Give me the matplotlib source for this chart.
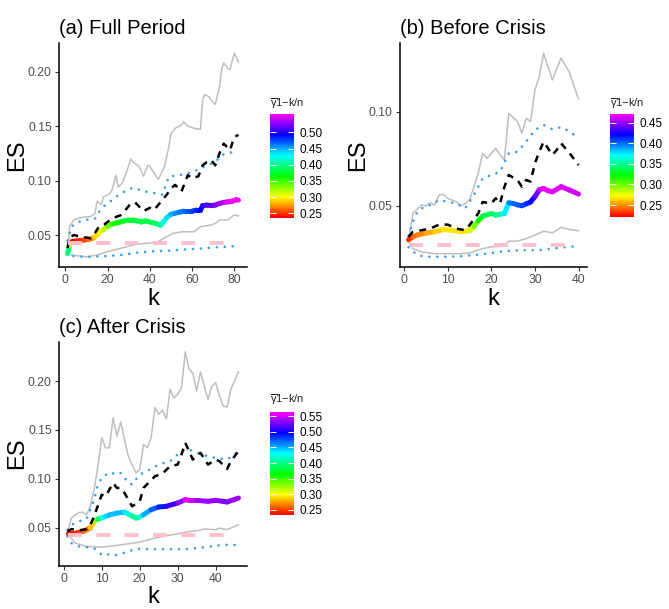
import numpy as np
import matplotlib
matplotlib.use("Agg")
import matplotlib.pyplot as plt
from matplotlib.collections import LineCollection
from matplotlib.colors import ListedColormap, Normalize, hsv_to_rgb
from matplotlib.cm import ScalarMappable

plt.rcParams["font.family"] = ["Liberation Sans", "DejaVu Sans"]
plt.rcParams["lines.scale_dashes"] = False
plt.rcParams["mathtext.fontset"] = "custom"
plt.rcParams["mathtext.rm"] = "Liberation Sans"
plt.rcParams["mathtext.it"] = "Liberation Sans"

# ---------------- (a) Full Period ----------------
a_up_k = [1, 2, 4, 7, 12, 14, 15, 17, 18, 21, 22, 24, 25, 27, 29, 31, 32, 35, 37, 39, 40, 42, 44, 47,
          49, 50, 52, 55, 56, 58, 61, 64, 65, 66, 68, 69, 71, 73, 74, 75, 77, 78, 80, 82]
a_up = [0.033, 0.058, 0.064, 0.066, 0.067, 0.070, 0.081, 0.078, 0.085, 0.088, 0.091, 0.105, 0.094,
        0.098, 0.108, 0.120, 0.117, 0.113, 0.104, 0.114, 0.113, 0.107, 0.101, 0.113, 0.131, 0.143,
        0.148, 0.151, 0.154, 0.150, 0.148, 0.147, 0.174, 0.179, 0.177, 0.174, 0.170, 0.186, 0.202,
        0.208, 0.203, 0.202, 0.217, 0.209]
a_lo_k = [1, 3, 10, 15, 20, 26, 32, 37, 42, 44, 48, 51, 55, 61, 64, 69, 71, 73, 77, 80, 82]
a_lo = [0.033, 0.0316, 0.030, 0.0316, 0.0347, 0.0377, 0.0408, 0.0423, 0.0430, 0.044, 0.0485,
        0.0515, 0.053, 0.053, 0.0577, 0.0592, 0.0607, 0.0638, 0.0638, 0.0684, 0.0675]
a_bup_k = [1, 3, 6, 10, 14, 17, 20, 24, 28, 32, 36, 40, 44, 46, 49, 54, 58, 63, 67, 71, 74, 80, 82]
a_bup = [0.045, 0.058, 0.062, 0.064, 0.065, 0.0745, 0.079, 0.085, 0.090, 0.0935, 0.091, 0.089,
         0.088, 0.087, 0.1036, 0.105, 0.1067, 0.110, 0.114, 0.117, 0.1235, 0.1266, 0.126]
a_blo_k = [1, 3, 10, 18, 26, 34, 42, 49, 57, 65, 71, 82]
a_blo = [0.035, 0.0307, 0.030, 0.0305, 0.0316, 0.0338, 0.0352, 0.0356, 0.0368, 0.0377, 0.0387, 0.040]
a_est_k = [1, 2, 4, 6, 9, 12, 14, 16, 18, 20, 23, 26, 28, 31, 33, 35, 37, 40, 42, 45, 48, 50, 52,
           55, 58, 60, 63, 65, 67, 69, 71, 73, 75, 78, 80, 82]
a_est = [0.038, 0.048, 0.050, 0.049, 0.048, 0.047, 0.052, 0.058, 0.059, 0.062, 0.066, 0.068, 0.072,
         0.079, 0.080, 0.076, 0.072, 0.075, 0.073, 0.080, 0.087, 0.093, 0.096, 0.090, 0.105, 0.102,
         0.104, 0.114, 0.117, 0.119, 0.114, 0.125, 0.134, 0.128, 0.140, 0.142]
a_es_k = [1, 2, 3, 5, 7, 9, 11, 13, 14, 16, 18, 20, 22, 24, 26, 28, 30, 32, 34, 36, 38, 40, 42, 44,
          45, 46, 48, 50, 52, 54, 56, 58, 60, 62, 64, 65, 67, 69, 71, 73, 75, 77, 79, 81, 82]
a_es = [0.033, 0.041, 0.044, 0.0445, 0.045, 0.0455, 0.046, 0.047, 0.0485, 0.052, 0.055, 0.058,
        0.060, 0.061, 0.062, 0.063, 0.064, 0.064, 0.063, 0.062, 0.063, 0.062, 0.061, 0.060, 0.059,
        0.061, 0.066, 0.069, 0.070, 0.071, 0.072, 0.072, 0.072, 0.073, 0.073, 0.077, 0.0775, 0.077,
        0.0775, 0.079, 0.080, 0.0805, 0.081, 0.0825, 0.082]
a_gamma = [0.42, 0.37, 0.236, 0.24, 0.245, 0.25, 0.26, 0.27, 0.28, 0.30, 0.31, 0.33, 0.35, 0.36,
           0.37, 0.375, 0.38, 0.38, 0.385, 0.38, 0.385, 0.38, 0.39, 0.39, 0.40, 0.41, 0.43, 0.445,
           0.455, 0.46, 0.465, 0.47, 0.475, 0.48, 0.49, 0.50, 0.51, 0.515, 0.52, 0.53, 0.54, 0.545,
           0.55, 0.557, 0.555]
a_ref = 0.0425

# ---------------- (b) Before Crisis ----------------
b_up_k = [1, 2, 4, 5, 6, 7, 8, 9, 10, 12, 13, 14, 15, 16, 17, 18, 19, 21, 22, 23, 24, 26, 27, 28,
          29, 30, 31, 32, 34, 36, 38, 39, 40]
b_up = [0.031, 0.046, 0.0504, 0.050, 0.0516, 0.0504, 0.0557, 0.056, 0.0539, 0.0521, 0.050, 0.0512,
        0.053, 0.060, 0.0672, 0.0778, 0.0752, 0.0805, 0.077, 0.0743, 0.0991, 0.0947, 0.0885, 0.0965,
        0.0947, 0.1115, 0.1186, 0.131, 0.1168, 0.1284, 0.1204, 0.1133, 0.1066]
b_lo_k = [1, 2, 4, 7, 13, 15, 18, 20, 23, 24, 26, 28, 30, 32, 34, 36, 38, 40]
b_lo = [0.031, 0.0273, 0.0255, 0.0246, 0.0246, 0.025, 0.0273, 0.0282, 0.0285, 0.0312, 0.0312,
        0.0326, 0.0344, 0.0365, 0.0356, 0.0385, 0.0374, 0.0367]
b_bup_k = [1, 2, 3, 4, 6, 8, 10, 12, 14, 16, 18, 20, 22, 24, 26, 28, 30, 32, 34, 36, 38, 40]
b_bup = [0.034, 0.0415, 0.0468, 0.0486, 0.0504, 0.053, 0.0521, 0.0512, 0.0486, 0.0557, 0.0645,
         0.0663, 0.068, 0.0778, 0.0787, 0.084, 0.0902, 0.0929, 0.0906, 0.0917, 0.0894, 0.0858]
b_blo_k = [1, 3, 5, 9, 13, 16, 19, 23, 27, 31, 34, 38, 40]
b_blo = [0.028, 0.0238, 0.0229, 0.0229, 0.0232, 0.0238, 0.0246, 0.0259, 0.0264, 0.0264, 0.0273,
         0.0282, 0.0287]
b_est_k = [1, 2, 4, 6, 8, 10, 12, 14, 15, 17, 18, 20, 21, 22, 23, 24, 26, 27, 28, 29, 30, 31, 32,
           34, 35, 36, 38, 40]
b_est = [0.0335, 0.0362, 0.037, 0.0379, 0.040, 0.040, 0.0379, 0.037, 0.0397, 0.0459, 0.052,
         0.0512, 0.054, 0.0512, 0.060, 0.0663, 0.0637, 0.0601, 0.0637, 0.0628, 0.0725, 0.0787,
         0.084, 0.077, 0.0796, 0.0832, 0.0778, 0.0716]
b_es_k = [1, 2, 3, 5, 7, 9, 11, 13, 15, 16, 17, 18, 20, 21, 22, 23, 24, 25, 26, 27, 28, 29, 30,
          31, 32, 33, 34, 36, 38, 40]
b_es = [0.032, 0.0335, 0.0345, 0.0355, 0.0362, 0.0374, 0.037, 0.0362, 0.0367, 0.039, 0.042,
        0.0445, 0.0459, 0.045, 0.0455, 0.0459, 0.0516, 0.0512, 0.0505, 0.050, 0.051, 0.052, 0.0548,
        0.0585, 0.0592, 0.058, 0.0574, 0.0601, 0.0583, 0.0562]
b_gamma = [0.222, 0.24, 0.245, 0.25, 0.26, 0.265, 0.27, 0.265, 0.27, 0.29, 0.31, 0.33, 0.34, 0.345,
           0.35, 0.36, 0.39, 0.40, 0.40, 0.405, 0.41, 0.415, 0.43, 0.45, 0.465, 0.47, 0.465, 0.46,
           0.465, 0.455]
b_ref = 0.029

# ---------------- (c) After Crisis ----------------
c_up_k = [1, 2, 4, 5, 6, 7, 8, 9, 10, 11, 12, 13, 14, 15, 16, 17, 19, 20, 21, 22, 23, 24, 25, 26,
          27, 28, 29, 30, 31, 32, 33, 34, 35, 36, 37, 38, 39, 40, 41, 42, 43, 44, 46]
c_up = [0.0445, 0.060, 0.0657, 0.0657, 0.0633, 0.0719, 0.089, 0.1129, 0.1419, 0.1317, 0.1317,
        0.1624, 0.1436, 0.158, 0.1402, 0.1231, 0.106, 0.1095, 0.1351, 0.1317, 0.1419, 0.1727,
        0.1659, 0.1703, 0.1614, 0.1915, 0.1829, 0.1864, 0.1932, 0.2298, 0.212, 0.2079, 0.1898,
        0.2093, 0.1949, 0.1812, 0.1949, 0.1983, 0.1847, 0.1744, 0.1734, 0.1915, 0.2093]
c_lo_k = [1, 3, 6, 10, 13, 17, 20, 24, 27, 31, 33, 35, 37, 40, 41, 43, 46]
c_lo = [0.0445, 0.0343, 0.0309, 0.0302, 0.0315, 0.0336, 0.0353, 0.0394, 0.0418, 0.0445, 0.0462,
        0.0469, 0.0486, 0.048, 0.0497, 0.048, 0.0531]
c_bup_k = [1, 2, 4, 6, 7, 8, 9, 10, 12, 14, 15, 17, 18, 20, 23, 25, 28, 31, 33, 35, 38, 40, 43, 46]
c_bup = [0.048, 0.053, 0.0565, 0.0589, 0.0685, 0.0787, 0.0941, 0.1009, 0.1067, 0.1043, 0.106,
         0.0958, 0.0941, 0.1043, 0.1101, 0.1146, 0.118, 0.1283, 0.130, 0.1266, 0.1231, 0.1214,
         0.1197, 0.128]
c_blo_k = [1, 2, 4, 6, 8, 10, 11, 13, 15, 17, 19, 23, 27, 32, 35, 39, 42, 46]
c_blo = [0.0411, 0.0343, 0.0309, 0.0302, 0.029, 0.0223, 0.0233, 0.0216, 0.0233, 0.0257, 0.0285,
         0.0281, 0.0281, 0.0281, 0.0292, 0.0309, 0.0326, 0.0322]
c_est_k = [1, 2, 4, 6, 7, 8, 10, 11, 13, 14, 15, 16, 18, 20, 21, 24, 26, 28, 30, 31, 32, 34, 36,
           38, 40, 41, 43, 44, 46]
c_est = [0.0462, 0.0486, 0.0473, 0.0486, 0.053, 0.0616, 0.0838, 0.0821, 0.0958, 0.0907, 0.0907,
         0.0855, 0.0719, 0.077, 0.0907, 0.1026, 0.1054, 0.1129, 0.1146, 0.1249, 0.1368, 0.1197,
         0.1266, 0.1146, 0.1197, 0.118, 0.1101, 0.118, 0.1283]
c_es_k = [1, 3, 5, 7, 8, 9, 10, 11, 12, 14, 16, 17, 18, 19, 20, 21, 23, 25, 27, 30, 32, 33, 35,
          38, 40, 42, 43, 45, 46]
c_es = [0.0445, 0.0445, 0.0462, 0.0497, 0.0565, 0.059, 0.060, 0.0616, 0.063, 0.065, 0.066, 0.064,
        0.062, 0.0599, 0.061, 0.0633, 0.0685, 0.0712, 0.0719, 0.0753, 0.0787, 0.078, 0.078, 0.077,
        0.078, 0.077, 0.0763, 0.079, 0.0804]
c_gamma = [0.234, 0.24, 0.25, 0.27, 0.30, 0.36, 0.42, 0.44, 0.445, 0.45, 0.445, 0.43, 0.41, 0.395,
           0.41, 0.44, 0.465, 0.48, 0.50, 0.52, 0.545, 0.562, 0.54, 0.535, 0.54, 0.53, 0.525, 0.535,
           0.54]
c_ref = 0.0425

panels = [
    dict(title="(a) Full Period", up=(a_up_k, a_up), lo=(a_lo_k, a_lo), bup=(a_bup_k, a_bup),
         blo=(a_blo_k, a_blo), est=(a_est_k, a_est), es=(a_es_k, a_es, a_gamma), ref=a_ref,
         xticks=[0, 20, 40, 60, 80], yticks=[0.05, 0.10, 0.15, 0.20],
         cticks=[0.25, 0.30, 0.35, 0.40, 0.45, 0.50],
         rect=[59 / 669, 1 - 267 / 609, 188 / 669, 224 / 609],
         crect=[270 / 669, 1 - 217.7 / 609, 24 / 669, 103.7 / 609], ctitle_y=1 - 104 / 609),
    dict(title="(b) Before Crisis", up=(b_up_k, b_up), lo=(b_lo_k, b_lo), bup=(b_bup_k, b_bup),
         blo=(b_blo_k, b_blo), est=(b_est_k, b_est), es=(b_es_k, b_es, b_gamma), ref=b_ref,
         xticks=[0, 10, 20, 30, 40], yticks=[0.05, 0.10],
         cticks=[0.25, 0.30, 0.35, 0.40, 0.45],
         rect=[400 / 669, 1 - 267 / 609, 187 / 669, 224 / 609],
         crect=[610 / 669, 1 - 216.7 / 609, 24 / 669, 102.4 / 609], ctitle_y=1 - 104 / 609),
    dict(title="(c) After Crisis", up=(c_up_k, c_up), lo=(c_lo_k, c_lo), bup=(c_bup_k, c_bup),
         blo=(c_blo_k, c_blo), est=(c_est_k, c_est), es=(c_es_k, c_es, c_gamma), ref=c_ref,
         xticks=[0, 10, 20, 30, 40], yticks=[0.05, 0.10, 0.15, 0.20],
         cticks=[0.25, 0.30, 0.35, 0.40, 0.45, 0.50, 0.55],
         rect=[59 / 669, 1 - 565.7 / 609, 188 / 669, 224 / 609],
         crect=[270 / 669, 1 - 515 / 609, 24 / 669, 102.7 / 609], ctitle_y=1 - 400 / 609),
]

hues = np.linspace(0, 5 / 6, 256)
cmap = ListedColormap(hsv_to_rgb(np.column_stack([hues, np.ones(256), np.ones(256)])))

fig = plt.figure(figsize=(6.69, 6.09), dpi=100)

for p in panels:
    ax = fig.add_axes(p["rect"])
    grey = "#BEBEBE"
    blue = "#3D9BE9"
    ax.plot(*p["up"], color=grey, lw=1.1, zorder=2)
    ax.plot(*p["lo"], color=grey, lw=1.1, zorder=2)
    for key in ("bup", "blo"):
        ax.plot(*p[key], color=blue, lw=1.9, linestyle=(0, (0.05, 5.7)),
                dash_capstyle="round", zorder=3)

    ek, ev, eg = p["es"]
    pts = np.column_stack([ek, ev])
    segs = np.stack([pts[:-1], pts[1:]], axis=1)
    eg = np.asarray(eg)
    norm = Normalize(eg.min(), eg.max())
    lc = LineCollection(segs, cmap=cmap, norm=norm, linewidths=3.6, capstyle="round",
                        joinstyle="round", zorder=4)
    lc.set_array((eg[:-1] + eg[1:]) / 2)
    ax.add_collection(lc)

    ax.plot(*p["est"], color="black", lw=1.8, linestyle=(0, (5, 4.5)), zorder=5)
    kmin, kmax = min(ek), max(ek)
    ax.plot([kmin, kmax], [p["ref"], p["ref"]], color="#FFC0CB", lw=2.9,
            linestyle=(0, (10, 10.4)), zorder=6)

    allv = np.concatenate([p[s][1] for s in ("up", "lo", "bup", "blo", "est", "es")])
    lo, hi = allv.min(), allv.max()
    ax.set_ylim(lo - 0.05 * (hi - lo), hi + 0.05 * (hi - lo))
    ax.set_xlim(kmin - 0.05 * (kmax - kmin), kmax + 0.05 * (kmax - kmin))
    ax.set_xticks(p["xticks"])
    ax.set_yticks(p["yticks"])
    ax.set_yticklabels([f"{t:.2f}" for t in p["yticks"]])
    for s in ("top", "right"):
        ax.spines[s].set_visible(False)
    for s in ("left", "bottom"):
        ax.spines[s].set_linewidth(1.1)
    ax.tick_params(colors="#333333", labelcolor="#4D4D4D", labelsize=8.7, length=2.7,
                   width=0.8, pad=2.5)
    ax.set_xlabel("k", fontsize=17, labelpad=1)
    ax.set_ylabel("ES", fontsize=17, labelpad=-0.5)
    ax.set_title(p["title"], loc="left", fontsize=14.5, pad=6.3)

    cax = fig.add_axes(p["crect"])
    cb = fig.colorbar(ScalarMappable(norm=norm, cmap=cmap), cax=cax)
    cb.outline.set_visible(False)
    cb.set_ticks(p["cticks"])
    cb.set_ticklabels([f"{t:.2f}" for t in p["cticks"]])
    cax.tick_params(axis="y", direction="in", color="white", length=4.5, width=0.7,
                    left=True, right=True, labelsize=8.5, pad=4)
    fig.text(p["crect"][0], p["ctitle_y"], r"$\overline{\mathrm{\gamma}}$1$-$k/n", fontsize=8,
             ha="left", va="center", color="#222222")

fig.savefig("out.png", dpi=100)
